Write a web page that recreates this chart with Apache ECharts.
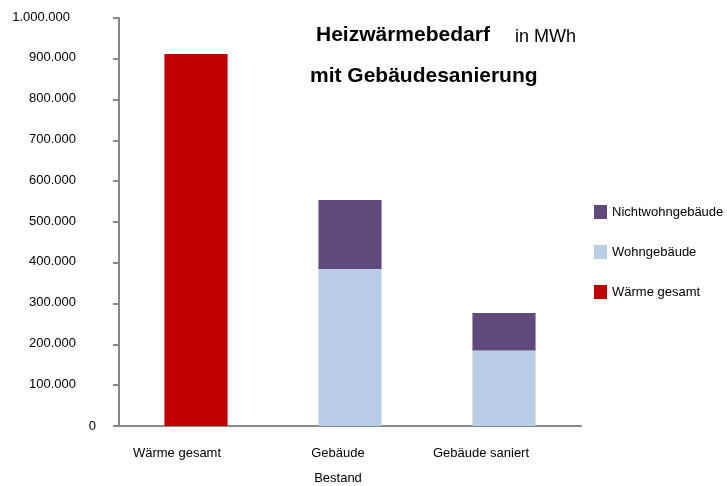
<!DOCTYPE html>
<html>
<head>
<meta charset="utf-8">
<script src="https://cdn.jsdelivr.net/npm/echarts@6/dist/echarts.min.js"></script>
<style>
  html, body { margin: 0; padding: 0; background: #fff; }
  #chart { width: 727px; height: 486px; }
</style>
</head>
<body>
<div id="chart"></div>
<script>
const categories = ['Wärme gesamt', 'Gebäude\nBestand', 'Gebäude saniert']
const waermeGesamt = [912000, '-', '-']
const wohngebaeude = ['-', 385000, 185000]
const nichtwohngebaeude = ['-', 169000, 92000]
const yTicks = [0, 100000, 200000, 300000, 400000, 500000, 600000, 700000, 800000, 900000, 1000000]

const font = '"Liberation Sans", Arial, sans-serif'
const axisGray = '#878787'

// deutsche Tausenderpunkte
function fmt(v) {
  return String(v).replace(/\B(?=(\d{3})+(?!\d))/g, '.')
}

// im Original sitzen die Kategorienamen etwas links von der Mitte
const labelStyle = ['w', 'g', 's']

const chart = echarts.init(document.getElementById('chart'))

chart.setOption({
  animation: false,
  textStyle: { fontFamily: font },
  grid: {
    left: 119,
    right: 146,
    top: 18,
    bottom: 60,
    outerBoundsMode: 'none'
  },
  graphic: [
    {
      type: 'text',
      left: 316,
      top: 25,
      style: { text: 'Heizwärmebedarf', font: 'bold 21px ' + font, fill: '#000' }
    },
    {
      type: 'text',
      left: 515,
      top: 28,
      style: { text: 'in MWh', font: '18px ' + font, fill: '#000' }
    },
    {
      type: 'text',
      left: 310,
      top: 66,
      style: { text: 'mit Gebäudesanierung', font: 'bold 21px ' + font, fill: '#000' }
    }
  ],
  legend: {
    orient: 'vertical',
    left: 589,
    top: 200,
    itemWidth: 13,
    itemHeight: 14,
    itemGap: 26,
    icon: 'rect',
    data: ['Nichtwohngebäude', 'Wohngebäude', 'Wärme gesamt'],
    textStyle: { fontSize: 13, color: '#000', fontFamily: font, padding: [-6, 0, 0, 0] }
  },
  xAxis: {
    type: 'category',
    data: categories,
    axisLine: { lineStyle: { color: axisGray, width: 2 } },
    axisTick: { length: 6, lineStyle: { color: axisGray, width: 2 } },
    axisLabel: {
      color: '#000',
      fontSize: 13,
      margin: 15,
      lineHeight: 25,
      fontFamily: font,
      formatter: function (v, i) {
        const s = labelStyle[i]
        return v.split('\n').map(function (line) { return '{' + s + '|' + line + '}' }).join('\n')
      },
      rich: {
        w: { fontSize: 13, lineHeight: 25, color: '#000', padding: [0, 38, 0, 0], fontFamily: font },
        g: { fontSize: 13, lineHeight: 25, color: '#000', padding: [0, 24, 0, 0], fontFamily: font },
        s: { fontSize: 13, lineHeight: 25, color: '#000', padding: [0, 46, 0, 0], fontFamily: font }
      }
    }
  },
  yAxis: {
    type: 'value',
    min: 0,
    max: 1000000,
    interval: 100000,
    splitLine: { show: false },
    axisLine: { show: true, lineStyle: { color: axisGray, width: 2 } },
    axisTick: { show: true, length: 6, lineStyle: { color: axisGray, width: 2 } },
    axisLabel: {
      color: '#000',
      fontSize: 13,
      margin: 23,
      fontFamily: font,
      formatter: function (v) {
        if (v === 0) return '0'
        if (v === yTicks[yTicks.length - 1]) return '{top|' + fmt(v) + '}'
        return '{n|' + fmt(v) + '}'
      },
      rich: {
        n: { fontSize: 13, color: '#000', padding: [0, 20, 2, 0], fontFamily: font },
        top: { fontSize: 13, color: '#000', padding: [0, 26, 2, 0], fontFamily: font }
      }
    }
  },
  series: [
    {
      name: 'Wärme gesamt',
      type: 'bar',
      stack: 'bedarf',
      barWidth: '41%',
      itemStyle: { color: '#C00000' },
      data: waermeGesamt
    },
    {
      name: 'Wohngebäude',
      type: 'bar',
      stack: 'bedarf',
      barWidth: '41%',
      itemStyle: { color: '#B9CDE5' },
      data: wohngebaeude
    },
    {
      name: 'Nichtwohngebäude',
      type: 'bar',
      stack: 'bedarf',
      barWidth: '41%',
      itemStyle: { color: '#604A7B' },
      data: nichtwohngebaeude
    }
  ]
})
</script>
</body>
</html>
